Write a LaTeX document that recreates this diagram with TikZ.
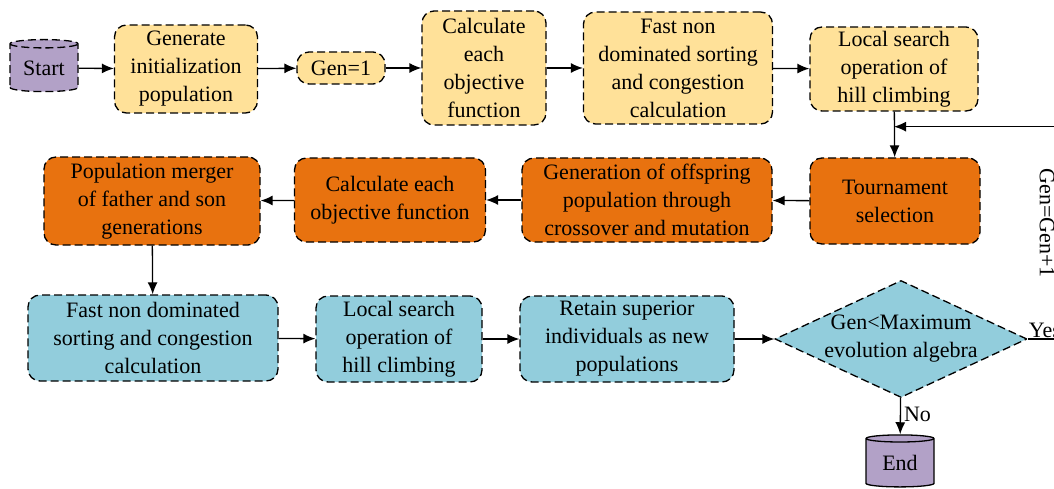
\documentclass[tikz,border=0pt]{standalone}
\usepackage{fontspec}
\setmainfont{Liberation Serif}
\usetikzlibrary{shapes.geometric,arrows.meta}
\definecolor{boxyellow}{HTML}{FFE199}
\definecolor{boxorange}{HTML}{E8720F}
\definecolor{boxblue}{HTML}{92CDDC}
\definecolor{boxpurple}{HTML}{B2A1C7}
\tikzset{
	flowbox/.style={draw,line width=1.3pt,dash pattern=on 8pt off 4pt,rounded corners=12pt,align=center,inner sep=0pt},
	drum/.style={draw,line width=1.3pt,cylinder,shape border rotate=90,aspect=0.2,fill=boxpurple,inner sep=0pt,minimum width=68pt,minimum height=52pt}
}
\begin{document}
\begin{tikzpicture}[x=1pt,y=-1pt,font=\fontsize{22}{28}\selectfont]
	\useasboundingbox (0,0) rectangle (1054,489);
	\clip (0,0) rectangle (1054,489);
	
	\node (start) at (44,68) [drum,dash pattern=on 8pt off 4pt] {Start};
	\node (end) at (900,463) [drum] {End};
	
	\begin{scope}[every node/.style={flowbox,fill=boxyellow}]
		\node (init) at (186,69) [minimum width=143pt,minimum height=88pt] {Generate\\initialization\\population};
		\node (gen1) at (341,68) [minimum width=88pt,minimum height=32pt] {Gen=1};
		\node (calc1) at (484,68) [minimum width=124pt,minimum height=114pt] {Calculate\\each\\objective\\function};
		\node (sort1) at (678,68) [minimum width=189pt,minimum height=112pt] {Fast non\\dominated sorting\\and congestion\\calculation};
		\node (local1) at (894,69) [minimum width=168pt,minimum height=84pt] {Local search\\operation of\\hill climbing};
	\end{scope}
	
	\begin{scope}[every node/.style={flowbox,fill=boxorange}]
		\node (tour) at (895,201) [minimum width=170pt,minimum height=86pt] {Tournament\\selection};
		\node (offs) at (647,200) [minimum width=250pt,minimum height=84pt] {Generation of offspring\\population through\\crossover and mutation};
		\node (calc2) at (390,200) [minimum width=191pt,minimum height=84pt] {Calculate each\\objective function};
		\node (merge) at (152,201) [minimum width=216pt,minimum height=88pt] {Population merger\\of father and son\\generations};
	\end{scope}
	
	\begin{scope}[every node/.style={flowbox,fill=boxblue}]
		\node (sort2) at (153,338) [minimum width=250pt,minimum height=86pt] {Fast non dominated\\sorting and congestion\\calculation};
		\node (local2) at (399,339) [minimum width=166pt,minimum height=86pt] {Local search\\operation of\\hill climbing};
		\node (retain) at (627,339) [minimum width=214pt,minimum height=86pt] {Retain superior\\individuals as new\\populations};
		\node (dec) at (901,339) [diamond,rounded corners=0pt,minimum width=252pt,minimum height=117pt] {};
	\end{scope}
	\node (dectext) at (dec.center) [align=center] {Gen<Maximum\\evolution algebra};
	
	\coordinate (join) at ([yshift=-15pt]local1.south);
	\coordinate (rgt) at (1064,339);
	\coordinate (rgttop) at (rgt |- join);
	
	\begin{scope}[every edge/.style={draw=black,line width=1.3pt,-{Latex[length=12pt,width=10pt]}}]
		\path (start) edge (init);
		\path (init) edge (gen1);
		\path (gen1) edge (calc1);
		\path (calc1) edge (sort1);
		\path (sort1) edge (local1);
		\path (local1) edge (tour);
		\path (tour) edge (offs);
		\path (offs) edge (calc2);
		\path (calc2) edge (merge);
		\path (merge) edge (sort2);
		\path (sort2) edge (local2);
		\path (local2) edge (retain);
		\path (retain) edge (dec);
		\path (dec) edge node [right,pos=0.45,inner sep=3pt] (no) {No} (end);
		\path (rgttop) edge (join);
	\end{scope}
	\draw [line width=1.3pt] (dec.east) -- (rgt) -- (rgttop);
	\node (yes) at (dec.east) [above right,inner sep=1pt] {Yes};
	\node (incr) at (1047,223) [rotate=-90] {Gen=Gen+1};
\end{tikzpicture}
\end{document}
